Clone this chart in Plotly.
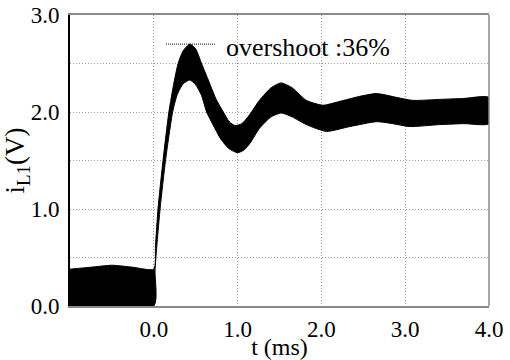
import plotly.graph_objects as go

# Envelope of the rippled inductor current i_L1 (upper / lower edges of the band)
upper_t = [-1.0, -0.75, -0.5, -0.25, 0.0, 0.02, 0.05, 0.11, 0.18, 0.24, 0.29, 0.35, 0.43,
           0.5, 0.57, 0.65, 0.75, 0.83, 0.9, 0.97, 1.05, 1.15, 1.26, 1.4, 1.52, 1.65,
           1.82, 2.02, 2.22, 2.45, 2.66, 2.9, 3.09, 3.41, 3.7, 4.0]
upper_i = [0.38, 0.40, 0.42, 0.40, 0.38, 0.62, 1.0, 1.5, 2.0, 2.30, 2.5, 2.63, 2.70,
           2.65, 2.5, 2.33, 2.12, 2.0, 1.9, 1.86, 1.88, 1.98, 2.12, 2.25, 2.30, 2.25,
           2.12, 2.07, 2.11, 2.16, 2.19, 2.15, 2.12, 2.13, 2.14, 2.15]

lower_t = [-1.0, 0.0, 0.015, 0.075, 0.14, 0.225, 0.28, 0.35, 0.43, 0.5, 0.57, 0.63,
           0.7, 0.8, 0.9, 1.0, 1.08, 1.15, 1.26, 1.4, 1.52, 1.65, 1.82, 2.06, 2.34,
           2.66, 2.85, 3.05, 3.41, 3.7, 4.0]
lower_i = [0.0, 0.0, 0.38, 1.0, 1.5, 2.0, 2.18, 2.29, 2.33, 2.28, 2.17, 2.0,
           1.88, 1.72, 1.62, 1.58, 1.61, 1.68, 1.83, 1.95, 1.99, 1.95, 1.87, 1.80, 1.85,
           1.90, 1.88, 1.85, 1.87, 1.88, 1.88]

x_ticks = [0, 1, 2, 3, 4]
x_ticktext = ["0.0", "1.0", "2.0", "3.0", "4.0"]
y_ticks = [0, 1, 2, 3]
y_ticktext = ["0.0", "1.0", "2.0", "3.0"]
overshoot_label = "overshoot :36%"

FONT = "Liberation Serif, Times New Roman, Times, serif"
GRID = "#9a9a9a"
DOTS = "1px,2px"

poly_x = upper_t + lower_t[::-1]
poly_y = upper_i + lower_i[::-1]

fig = go.Figure()
fig.add_trace(go.Scatter(
    x=poly_x, y=poly_y, mode="lines", fill="toself",
    fillcolor="black", line=dict(color="black", width=1, shape="spline", smoothing=0.6),
    hoverinfo="skip", showlegend=False,
))

peak = max(upper_i)
fig.add_shape(type="line", x0=0.146, x1=0.73, y0=peak, y1=peak,
              line=dict(color="#333333", width=1.2, dash="1px,1px"))
fig.add_annotation(x=0.837, y=peak, text=overshoot_label, showarrow=False,
                   xanchor="left", yanchor="middle", yshift=-3,
                   font=dict(family=FONT, size=26, color="black"))
# right border
fig.add_shape(type="line", xref="paper", yref="paper", x0=1, x1=1, y0=0, y1=1,
              line=dict(color="#8a8a8a", width=1.5))

fig.update_layout(
    width=510, height=360,
    margin=dict(l=70, r=21, t=15, b=54, autoexpand=False),
    paper_bgcolor="white", plot_bgcolor="white",
    font=dict(family=FONT, size=23, color="black"),
    showlegend=False,
)
fig.update_xaxes(
    range=[-1, 4], tickvals=x_ticks, ticktext=x_ticktext,
    tickfont=dict(family=FONT, size=23, color="black"),
    showgrid=True, gridcolor=GRID, griddash=DOTS, gridwidth=1,
    showline=True, linecolor="#8a8a8a", linewidth=1.5, mirror=True,
    zeroline=False, ticks="", ticklabelstandoff=2, automargin=False,
    title=dict(text="t (ms)", font=dict(family=FONT, size=24, color="black")),
)
fig.update_yaxes(
    range=[0, 3], tickvals=y_ticks, ticktext=y_ticktext,
    tickfont=dict(family=FONT, size=23, color="black"),
    showgrid=True, gridcolor=GRID, griddash=DOTS, gridwidth=1,
    minor=dict(dtick=0.5, showgrid=True, gridcolor=GRID, griddash=DOTS, gridwidth=1),
    showline=True, linecolor="black", linewidth=2, mirror=False,
    zeroline=False, ticks="", ticklabelstandoff=4, automargin=False,
    title=dict(text="i<sub>L1</sub>(V)", font=dict(family=FONT, size=27, color="black"),
               standoff=1),
)

fig.write_html("out.html", config={"displayModeBar": False},
               post_script="document.body.style.margin='0';document.body.style.padding='0';")
